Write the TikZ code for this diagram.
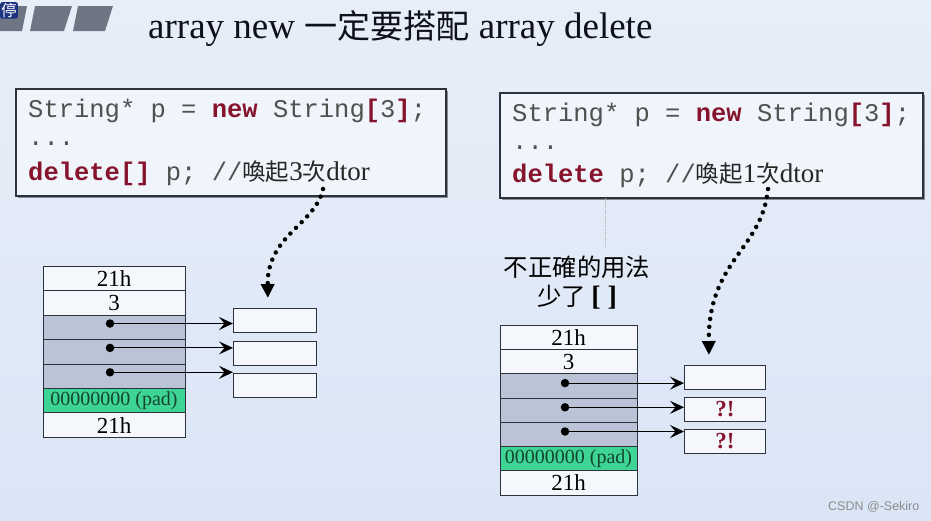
\documentclass[tikz,border=0pt]{standalone}
\usepackage{fontspec}
\setmainfont{Liberation Serif}
\setmonofont{Liberation Mono}
\setsansfont{Liberation Sans}
\newfontfamily\cjkfont[Scale=0.87]{Noto Sans CJK TC}
\usetikzlibrary{arrows.meta,positioning,shadows}

\definecolor{bgtop}{RGB}{232,238,248}
\definecolor{bgbottom}{RGB}{218,229,246}
\definecolor{boxfill}{RGB}{240,244,251}
\definecolor{frame}{RGB}{45,50,60}
\definecolor{shade}{RGB}{135,140,150}
\definecolor{codegrey}{RGB}{80,80,80}
\definecolor{kwred}{RGB}{135,20,45}
\definecolor{cellgrey}{RGB}{186,196,214}
\definecolor{cellwhite}{RGB}{244,247,252}
\definecolor{padgreen}{RGB}{62,212,150}
\definecolor{padtext}{RGB}{20,70,45}
\definecolor{titleink}{RGB}{15,16,30}
\definecolor{tabgrey}{RGB}{110,118,132}
\definecolor{stopblue}{RGB}{30,50,130}

\newcommand{\zh}[1]{{\cjkfont #1}}
\newcommand{\kw}[1]{\textcolor{kwred}{\bfseries #1}}
\newcommand{\cmnt}[1]{{\rmfamily\fontsize{27}{30}\selectfont\color{black!85}#1}}

\tikzset{
  codebox/.style={draw=frame, line width=1.6pt, fill=boxfill, anchor=north west, inner sep=0pt,
    drop shadow={shadow xshift=2pt, shadow yshift=-2pt, fill=shade, opacity=1}},
  codeline/.style={anchor=base west, inner sep=0pt, text=codegrey, font=\ttfamily\fontsize{25.5}{30}\selectfont},
  cell/.style={draw=frame, line width=1pt, minimum height=24.4pt, inner sep=0pt, anchor=north,
    font=\fontsize{23}{24}\selectfont},
  slot/.style={draw=frame, line width=1pt, fill=cellwhite, minimum height=24pt, inner sep=0pt,
    anchor=north west, text=kwred, font=\bfseries\fontsize{23}{24}\selectfont},
  dot/.style={circle, fill=black, inner sep=0pt, minimum size=8.5pt},
  ptr/.style={-{Stealth[length=14pt,width=13pt,inset=5.5pt]}, line width=1.1pt},
  dotarrow/.style={-{Triangle[length=14pt,width=13pt]}, line width=4.5pt, dash pattern=on 0pt off 8pt, line cap=round},
  tab/.style={fill=tabgrey},
}

\begin{document}
\begin{tikzpicture}[x=1pt, y=-1pt]
  \shade[top color=bgtop, bottom color=bgbottom] (0,0) rectangle (931,520);
  \useasboundingbox (0,0) rectangle (931,520);

  % header tabs
  \fill[tab] (-9,6) -- (27,6) -- (22,31) -- (-14,31) -- cycle;
  \fill[tab] (35,6) -- (72,6) -- (64,31) -- (30,31) -- cycle;
  \fill[tab] (78,6) -- (113,6) -- (105,31) -- (73,31) -- cycle;
  \node[fill=stopblue, text=white, rounded corners=2pt, inner sep=1pt, anchor=north west,
    font=\cjkfont\fontsize{18}{18}\selectfont] (stop) at (0,2) {停};

  \node[anchor=base west, inner sep=0pt, text=titleink, font=\fontsize{37}{40}\selectfont]
    (title) at (148,38) {array new {\cjkfont\fontsize{38}{40}\selectfont 一定要搭配} array delete};

  % code boxes
  \node[codebox, minimum width=430pt, minimum height=107pt] (codeL) at (15,88) {};
  \node[codebox, minimum width=423pt, minimum height=105pt] (codeR) at (499,92) {};

  \node[codeline] (l1) at (28,117) {String* p = \kw{new} String\kw{[}3\kw{]};};
  \node[codeline] (l2) at (28,145) {...};
  \node[codeline] (l3) at (28,180) {\kw{delete[]} p; //\cmnt{\zh{喚起}3\zh{次}dtor}};

  \node[codeline] (r1) at (512,121) {String* p = \kw{new} String\kw{[}3\kw{]};};
  \node[codeline] (r2) at (512,149) {...};
  \node[codeline] (r3) at (512,182) {\kw{delete} p; //\cmnt{\zh{喚起}1\zh{次}dtor}};

  % memory blocks
  \foreach [count=\i] \t/\c in {21h/cellwhite, 3/cellwhite, /cellgrey, /cellgrey, /cellgrey,
      {\fontsize{20}{22}\selectfont\color{padtext}00000000 (pad)}/padgreen, 21h/cellwhite} {
    \node[cell, fill=\c, minimum width=142pt] (L\i) at (114,{266+24.4*(\i-1)}) {\t};
    \node[cell, fill=\c, minimum width=137pt] (R\i) at (568.5,{325+24.2*(\i-1)}) {\t};
  }

  % element objects
  \node[slot, minimum width=83pt] (LB1) at (233,308) {};
  \node[slot, minimum width=83pt] (LB2) at (233,341) {};
  \node[slot, minimum width=83pt] (LB3) at (233,373) {};
  \node[slot, minimum width=81pt] (RB1) at (684,365) {};
  \node[slot, minimum width=81pt] (RB2) at (684,397) {?!};
  \node[slot, minimum width=81pt] (RB3) at (684,429) {?!};

  \foreach \k in {1,2,3} {
    \pgfmathtruncatemacro{\row}{\k + 2}
    \node[dot] (dL\k) at ([xshift=-4pt, yshift=4pt]L\row.center) {};
    \node[dot] (dR\k) at ([xshift=-3.5pt, yshift=3pt]R\row.center) {};
    \draw[ptr] (dL\k.center) -- (dL\k.center -| LB\k.west);
    \draw[ptr] (dR\k.center) -- (dR\k.center -| RB\k.west);
  }

  \node[align=center, inner sep=0pt, font=\cjkfont\fontsize{28}{29}\selectfont]
    (wrong) at (577,283) {不正確的用法\\少了 {\rmfamily\bfseries [\ ]}};

  % dtor calls
  \coordinate (fromL) at (323,189);
  \coordinate (fromR) at (768,189);
  \draw[dotarrow, shorten >=10pt] (fromL) .. controls (315,225) and (267,235) .. ([xshift=-7pt]LB1.north);
  \draw[dotarrow, shorten >=10pt] (fromR) .. controls (762,250) and (708,260) .. ([xshift=-16pt]RB1.north);

  \coordinate (markA) at (605,198);
  \coordinate (markB) at (605,247);
  \draw[gray!60, line width=0.8pt, densely dotted] (markA) -- (markB);

  \node[anchor=base west, inner sep=0pt, text=black!45, font=\sffamily\fontsize{12.5}{14}\selectfont]
    (mark) at (828,510) {CSDN @-Sekiro};
\end{tikzpicture}
\end{document}
